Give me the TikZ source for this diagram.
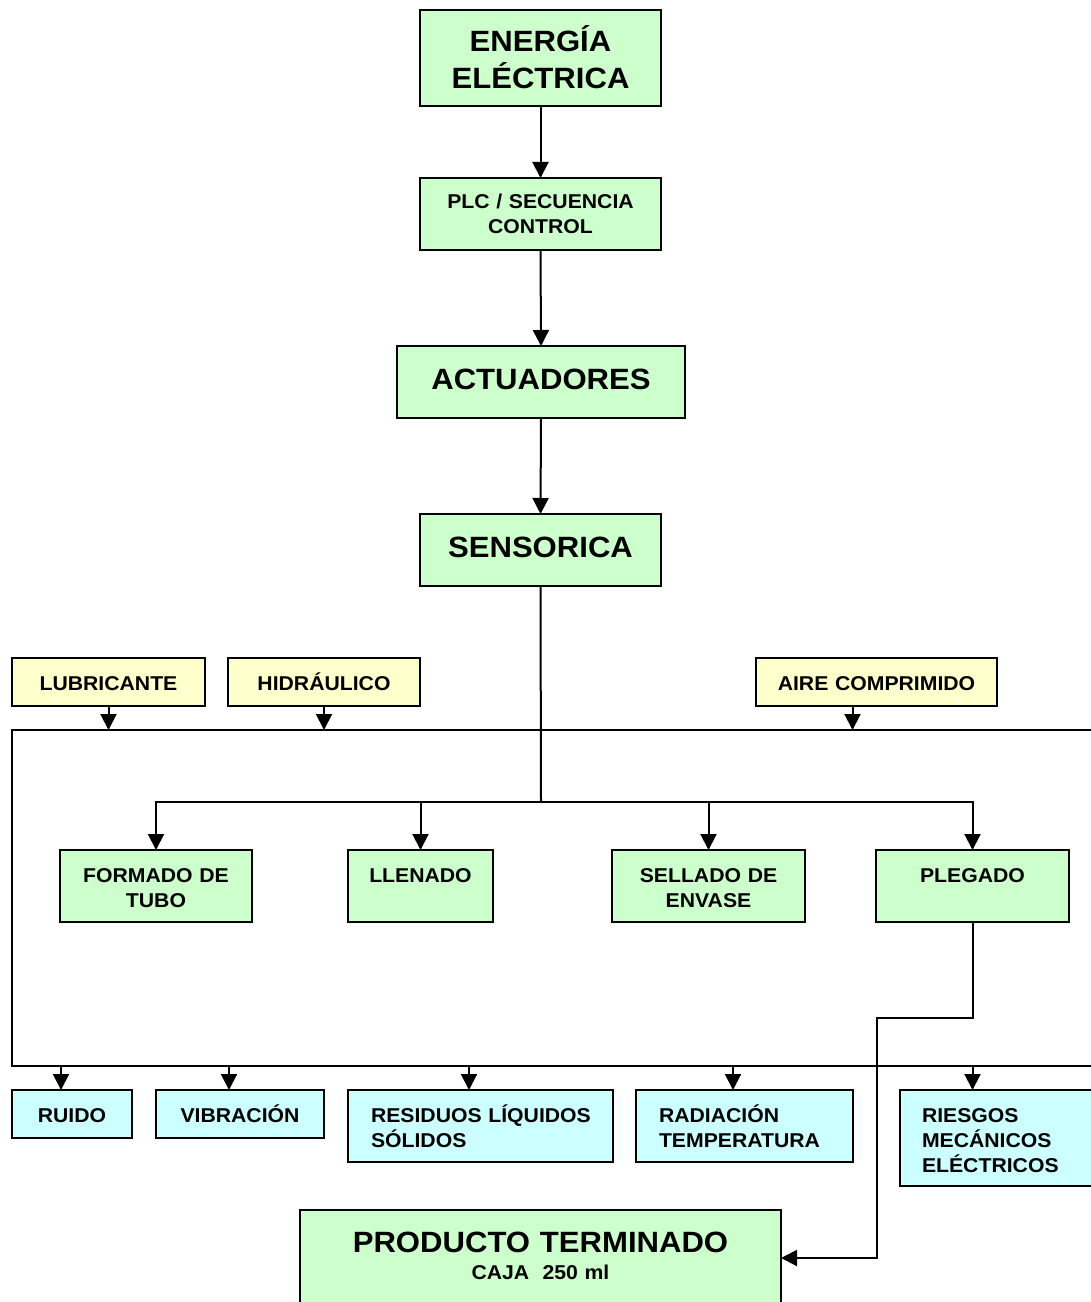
\documentclass[tikz,border=0pt]{standalone}
\usepackage{fontspec}
\setmainfont{Liberation Sans}[FakeStretch=1.06]
\usetikzlibrary{arrows.meta}
\newdimen\pxd \pxd=0.75pt
\definecolor{boxgreen}{HTML}{CCFFCC}
\definecolor{boxyellow}{HTML}{FFFFCC}
\definecolor{boxcyan}{HTML}{CCFFFF}
\newcommand\bigtxt{\fontsize{22pt}{27.75pt}\selectfont\bfseries}
\newcommand\smalltxt{\fontsize{15pt}{18.75pt}\selectfont\bfseries}
\begin{document}
\begin{tikzpicture}[x=0.75pt,y=-0.75pt,line width=1.5pt,
  box/.style={draw, anchor=north west, outer sep=0pt, inner sep=0pt},
  stage/.style={box, fill=boxgreen},
  supply/.style={box, fill=boxyellow, minimum height=48\pxd},
  effect/.style={box, fill=boxcyan},
  ctr/.style={anchor=north, inner sep=0pt, text height=0pt, text width=480\pxd, align=center},
  lft/.style={anchor=north west, inner sep=0pt, text height=0pt, text width=300\pxd, align=left},
  arr/.style={-{Triangle[length=12pt,width=12pt]}}]
\clip (0,0) rectangle (1091,1302);

% system boundary
\node[box, minimum width=1100\pxd, minimum height=336\pxd] (sys) at (12,730) {};

% control chain
\node[stage, minimum width=241\pxd, minimum height=96\pxd,
  label={[ctr, font=\bigtxt, yshift=-41\pxd]north:ENERGÍA\\ELÉCTRICA}] (ener) at (420,10) {};
\node[stage, minimum width=241\pxd, minimum height=72\pxd,
  label={[ctr, font=\smalltxt, yshift=-30\pxd]north:PLC / SECUENCIA\\CONTROL}] (plc) at (420,178) {};
\node[stage, minimum width=288\pxd, minimum height=72\pxd,
  label={[ctr, font=\bigtxt, yshift=-42\pxd]north:ACTUADORES}] (act) at (397,346) {};
\node[stage, minimum width=241\pxd, minimum height=72\pxd,
  label={[ctr, font=\bigtxt, yshift=-42\pxd]north:SENSORICA}] (sens) at (420,514) {};

% supplies
\node[supply, minimum width=193\pxd,
  label={[ctr, font=\smalltxt, yshift=-31\pxd]north:LUBRICANTE}] (lub) at (12,658) {};
\node[supply, minimum width=192\pxd,
  label={[ctr, font=\smalltxt, yshift=-31\pxd]north:HIDRÁULICO}] (hid) at (228,658) {};
\node[supply, minimum width=241\pxd,
  label={[ctr, font=\smalltxt, yshift=-31\pxd]north:AIRE COMPRIMIDO}] (aire) at (756,658) {};

% process stages
\node[stage, minimum width=192\pxd, minimum height=72\pxd,
  label={[ctr, font=\smalltxt, yshift=-31\pxd]north:FORMADO DE\\TUBO}] (form) at (60,850) {};
\node[stage, minimum width=145\pxd, minimum height=72\pxd,
  label={[ctr, font=\smalltxt, yshift=-31\pxd]north:LLENADO}] (llen) at (348,850) {};
\node[stage, minimum width=193\pxd, minimum height=72\pxd,
  label={[ctr, font=\smalltxt, yshift=-31\pxd]north:SELLADO DE\\ENVASE}] (sell) at (612,850) {};
\node[stage, minimum width=193\pxd, minimum height=72\pxd,
  label={[ctr, font=\smalltxt, yshift=-31\pxd]north:PLEGADO}] (pleg) at (876,850) {};

% effects
\node[effect, minimum width=120\pxd, minimum height=48\pxd,
  label={[ctr, font=\smalltxt, yshift=-31\pxd]north:RUIDO}] (ruido) at (12,1090) {};
\node[effect, minimum width=168\pxd, minimum height=48\pxd,
  label={[ctr, font=\smalltxt, yshift=-31\pxd]north:VIBRACIÓN}] (vib) at (156,1090) {};
\node[effect, minimum width=265\pxd, minimum height=72\pxd,
  label={[lft, font=\smalltxt, xshift=22\pxd, yshift=-31\pxd]north west:RESIDUOS LÍQUIDOS\\SÓLIDOS}] (resid) at (348,1090) {};
\node[effect, minimum width=217\pxd, minimum height=72\pxd,
  label={[lft, font=\smalltxt, xshift=22\pxd, yshift=-31\pxd]north west:RADIACIÓN\\TEMPERATURA}] (rad) at (636,1090) {};
\node[effect, minimum width=200\pxd, minimum height=96\pxd,
  label={[lft, font=\smalltxt, xshift=21\pxd, yshift=-31\pxd]north west:RIESGOS\\MECÁNICOS\\ELÉCTRICOS}] (ries) at (900,1090) {};

% finished product
\node[stage, minimum width=481\pxd, minimum height=96\pxd,
  label={[ctr, font=\bigtxt, yshift=-41\pxd]north:PRODUCTO TERMINADO},
  label={[ctr, font=\smalltxt, yshift=-68\pxd]north:CAJA\ \ 250 ml}] (prod) at (300,1210) {};

% control chain connectors
\draw[arr] (ener.south) -- (plc.north);
\draw[arr] (plc.south) -- (act.north);
\draw[arr] (act.south) -- (sens.north);

% distribution to stages
\coordinate (bus) at (541,802);
\draw (sens.south) -- (bus);
\draw[arr] (bus) -| (form.north);
\draw[arr] (bus) -| (llen.north);
\draw[arr] (bus) -| (sell.north);
\draw[arr] (bus) -| (pleg.north);

% supply inputs
\coordinate (airein) at ([xshift=-24\pxd]aire.south);
\draw[arr] (lub.south) -- (lub.south |- sys.north);
\draw[arr] (hid.south) -- (hid.south |- sys.north);
\draw[arr] (airein) -- (airein |- sys.north);

% effect outputs
\coordinate (ruidoin) at ([xshift=-11\pxd]ruido.north);
\coordinate (vibin) at ([xshift=-11\pxd]vib.north);
\coordinate (residin) at ([xshift=-11.5\pxd]resid.north);
\coordinate (radin) at ([xshift=-11.5\pxd]rad.north);
\coordinate (riesin) at (pleg.south |- ries.north);
\draw[arr] (ruidoin |- sys.south) -- (ruidoin);
\draw[arr] (vibin |- sys.south) -- (vibin);
\draw[arr] (residin |- sys.south) -- (residin);
\draw[arr] (radin |- sys.south) -- (radin);
\draw[arr] (riesin |- sys.south) -- (riesin);

% output of folding stage to finished product
\coordinate (bend) at (877,1018);
\draw[arr] (pleg.south) |- (bend) |- (prod.east);
\end{tikzpicture}
\end{document}
